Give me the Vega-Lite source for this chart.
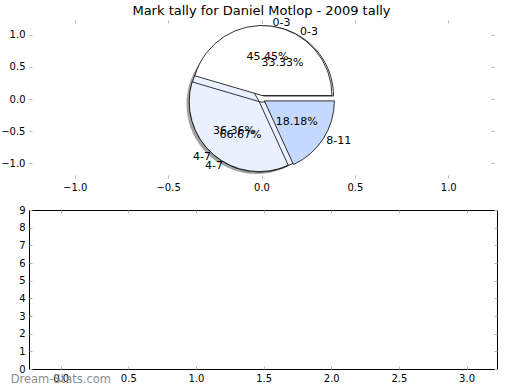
{
  "$schema": "https://vega.github.io/schema/vega-lite/v6.json",
  "padding": {"top": 5, "left": 0, "right": 0, "bottom": 0},
  "background": "white",
  "bounds": "flush",
  "spacing": 32,
  "config": {
    "font": "DejaVu Sans",
    "view": {"stroke": null},
    "axis": {
      "labelFont": "DejaVu Sans",
      "labelFontSize": 10,
      "labelColor": "#000000",
      "tickColor": "#b5b5b5",
      "tickSize": 3,
      "tickWidth": 1,
      "offset": -3,
      "domain": false,
      "grid": false,
      "title": null
    },
    "text": {"font": "DejaVu Sans", "fontSize": 11, "color": "#000000", "baseline": "middle"},
    "title": {"font": "DejaVu Sans", "fontSize": 13, "fontWeight": "normal", "color": "#000000"}
  },
  "datasets": {
    "pies": [
      {"pie": "A", "slice": "0-3", "share": 0.4545},
      {"pie": "A", "slice": "4-7", "share": 0.3636},
      {"pie": "A", "slice": "8-11", "share": 0.1818},
      {"pie": "B", "slice": "0-3", "share": 0.3333},
      {"pie": "B", "slice": "4-7", "share": 0.6667}
    ]
  },
  "vconcat": [
    {
      "width": 465,
      "height": 158,
      "title": {"text": "Mark tally for Daniel Motlop - 2009 tally", "offset": -1.5},
      "data": {"name": "pies"},
      "transform": [
        {"stack": "share", "groupby": ["pie"], "sort": [{"field": "slice", "order": "ascending"}], "as": ["s0", "s1"], "offset": "normalize"}
      ],
      "encoding": {
        "x": {"datum": 0, "type": "quantitative", "scale": {"domain": [-1.245, 1.245], "nice": false, "zero": false}, "axis": null},
        "y": {"datum": 0, "type": "quantitative", "scale": {"domain": [-1.225, 1.225], "nice": false, "zero": false}, "axis": null}
      },
      "layer": [
        {
          "transform": [{"filter": "datum.pie === 'B' && datum.slice === '4-7'"}],
          "mark": {"type": "arc", "radius": 70, "xOffset": -5, "yOffset": 5, "color": "#555555", "opacity": 0.55},
          "encoding": {
            "theta": {"field": "s0", "type": "quantitative", "scale": {"domain": [0, 1], "range": [1.5707963, -4.712389]}},
            "theta2": {"field": "s1"}
          }
        },
        {
          "transform": [{"filter": "datum.pie === 'B' && datum.slice === '0-3'"}],
          "mark": {"type": "arc", "radius": 70, "xOffset": 2, "yOffset": -3, "stroke": "#000000", "strokeWidth": 0.8},
          "encoding": {
            "x": {"datum": 0, "type": "quantitative", "axis": {"orient": "bottom", "values": [-1, -0.5, 0, 0.5, 1], "format": ".1f", "labelPadding": 4}},
            "y": {"datum": 0, "type": "quantitative", "axis": {"orient": "left", "values": [-1, -0.5, 0, 0.5, 1], "format": ".1f", "labelPadding": 4}},
            "theta": {"field": "s0", "type": "quantitative", "scale": {"domain": [0, 1], "range": [1.5707963, -4.712389]}},
            "theta2": {"field": "s1"},
            "fill": {"field": "slice", "type": "nominal", "scale": {"domain": ["0-3", "4-7", "8-11"], "range": ["#ffffff", "#e9f0fe", "#c5d8fd"]}, "legend": null}
          }
        },
        {
          "transform": [{"filter": "datum.pie === 'B' && datum.slice === '4-7'"}],
          "mark": {"type": "arc", "radius": 70, "xOffset": -2, "yOffset": 3, "stroke": "#000000", "strokeWidth": 0.8},
          "encoding": {
            "x": {"datum": 0, "type": "quantitative", "axis": {"orient": "top", "values": [-1, -0.5, 0, 0.5, 1], "labels": false}},
            "y": {"datum": 0, "type": "quantitative", "axis": {"orient": "right", "values": [-1, -0.5, 0, 0.5, 1], "labels": false}},
            "theta": {"field": "s0", "type": "quantitative", "scale": {"domain": [0, 1], "range": [1.5707963, -4.712389]}},
            "theta2": {"field": "s1"},
            "fill": {"field": "slice", "type": "nominal", "legend": null}
          }
        },
        {
          "transform": [{"filter": "datum.pie === 'A' && datum.slice === '0-3'"}],
          "mark": {"type": "arc", "radius": 70, "xOffset": 0.5, "yOffset": -3.5, "stroke": "#000000", "strokeWidth": 0.8},
          "encoding": {
            "theta": {"field": "s0", "type": "quantitative", "scale": {"domain": [0, 1], "range": [1.5707963, -4.712389]}},
            "theta2": {"field": "s1"},
            "fill": {"field": "slice", "type": "nominal", "legend": null}
          }
        },
        {
          "transform": [{"filter": "datum.pie === 'A' && datum.slice === '4-7'"}],
          "mark": {"type": "arc", "radius": 70, "xOffset": -2.3, "yOffset": 2.6, "stroke": "#000000", "strokeWidth": 0.8},
          "encoding": {
            "theta": {"field": "s0", "type": "quantitative", "scale": {"domain": [0, 1], "range": [1.5707963, -4.712389]}},
            "theta2": {"field": "s1"},
            "fill": {"field": "slice", "type": "nominal", "legend": null}
          }
        },
        {
          "transform": [{"filter": "datum.pie === 'A' && datum.slice === '8-11'"}],
          "mark": {"type": "arc", "radius": 70, "xOffset": 2.9, "yOffset": 1.9, "stroke": "#000000", "strokeWidth": 0.8},
          "encoding": {
            "theta": {"field": "s0", "type": "quantitative", "scale": {"domain": [0, 1], "range": [1.5707963, -4.712389]}},
            "theta2": {"field": "s1"},
            "fill": {"field": "slice", "type": "nominal", "legend": null}
          }
        },
        {
          "transform": [{"filter": "datum.pie === 'A'"}],
          "mark": {"type": "text", "radius": 77, "align": "left"},
          "encoding": {
            "theta": {"field": "share", "type": "quantitative", "stack": "normalize", "scale": {"domain": [0, 1], "range": [1.5707963, -4.712389]}},
            "order": {"field": "slice", "type": "ordinal", "sort": "ascending"},
            "text": {"condition": {"test": "datum.slice !== '4-7'", "field": "slice", "type": "nominal"}, "value": ""}
          }
        },
        {
          "transform": [{"filter": "datum.pie === 'A'"}],
          "mark": {"type": "text", "radius": 77, "align": "right"},
          "encoding": {
            "theta": {"field": "share", "type": "quantitative", "stack": "normalize", "scale": {"domain": [0, 1], "range": [1.5707963, -4.712389]}},
            "order": {"field": "slice", "type": "ordinal", "sort": "ascending"},
            "text": {"condition": {"test": "datum.slice === '4-7'", "field": "slice", "type": "nominal"}, "value": ""}
          }
        },
        {
          "transform": [{"filter": "datum.pie === 'A'"}],
          "mark": {"type": "text", "radius": 42, "align": "center"},
          "encoding": {
            "theta": {"field": "share", "type": "quantitative", "stack": "normalize", "scale": {"domain": [0, 1], "range": [1.5707963, -4.712389]}},
            "order": {"field": "slice", "type": "ordinal", "sort": "ascending"},
            "text": {"field": "share", "type": "quantitative", "format": ".2%"}
          }
        },
        {
          "transform": [{"filter": "datum.pie === 'B'"}],
          "mark": {"type": "text", "radius": 77, "align": "left"},
          "encoding": {
            "theta": {"field": "share", "type": "quantitative", "stack": "normalize", "scale": {"domain": [0, 1], "range": [1.5707963, -4.712389]}},
            "order": {"field": "slice", "type": "ordinal", "sort": "ascending"},
            "text": {"condition": {"test": "datum.slice !== '4-7'", "field": "slice", "type": "nominal"}, "value": ""}
          }
        },
        {
          "transform": [{"filter": "datum.pie === 'B'"}],
          "mark": {"type": "text", "radius": 77, "align": "right"},
          "encoding": {
            "theta": {"field": "share", "type": "quantitative", "stack": "normalize", "scale": {"domain": [0, 1], "range": [1.5707963, -4.712389]}},
            "order": {"field": "slice", "type": "ordinal", "sort": "ascending"},
            "text": {"condition": {"test": "datum.slice === '4-7'", "field": "slice", "type": "nominal"}, "value": ""}
          }
        },
        {
          "transform": [{"filter": "datum.pie === 'B'"}],
          "mark": {"type": "text", "radius": 42, "align": "center"},
          "encoding": {
            "theta": {"field": "share", "type": "quantitative", "stack": "normalize", "scale": {"domain": [0, 1], "range": [1.5707963, -4.712389]}},
            "order": {"field": "slice", "type": "ordinal", "sort": "ascending"},
            "text": {"field": "share", "type": "quantitative", "format": ".2%"}
          }
        }
      ],
      "resolve": {"axis": {"x": "independent", "y": "independent"}}
    },
    {
      "width": 468,
      "height": 159,
      "view": {"stroke": "#000000", "strokeWidth": 1},
      "title": {"text": "Dream-Stats.com", "orient": "bottom", "anchor": "start", "frame": "bounds", "color": "#8c8c8c", "fontSize": 11.5, "offset": -9, "dx": -8},
      "layer": [
        {
          "mark": {"type": "point", "opacity": 0},
          "encoding": {
            "x": {"datum": 0, "type": "quantitative", "scale": {"domain": [-0.234, 3.225], "nice": false, "zero": false}, "axis": {"orient": "bottom", "values": [0, 0.5, 1, 1.5, 2, 2.5, 3], "format": ".1f", "labelPadding": 4}},
            "y": {"datum": 0, "type": "quantitative", "scale": {"domain": [0, 9], "nice": false, "zero": false}, "axis": {"orient": "left", "values": [0, 1, 2, 3, 4, 5, 6, 7, 8, 9], "format": "d", "labelPadding": 4}}
          }
        },
        {
          "mark": {"type": "point", "opacity": 0},
          "encoding": {
            "x": {"datum": 0, "type": "quantitative", "axis": {"orient": "top", "values": [0, 0.5, 1, 1.5, 2, 2.5, 3], "labels": false}},
            "y": {"datum": 0, "type": "quantitative", "axis": {"orient": "right", "values": [0, 1, 2, 3, 4, 5, 6, 7, 8, 9], "labels": false}}
          }
        }
      ],
      "resolve": {"axis": {"x": "independent", "y": "independent"}}
    }
  ]
}
